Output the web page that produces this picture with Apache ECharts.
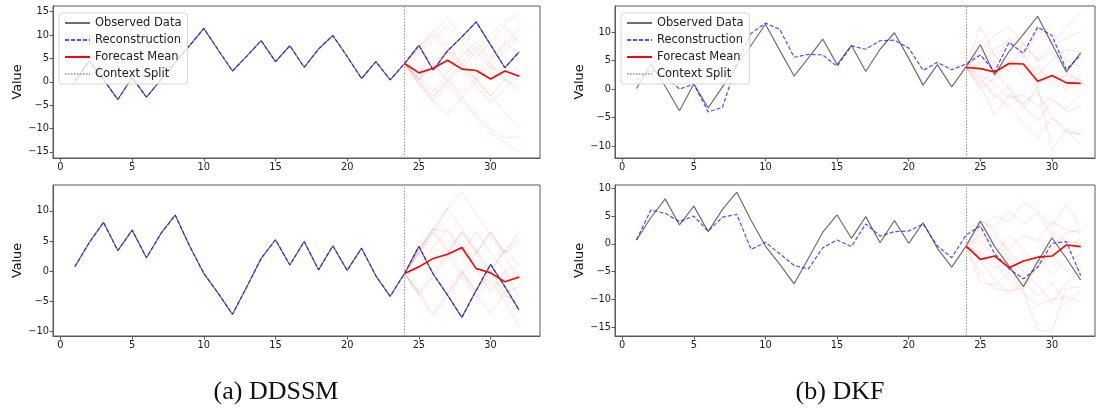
<!DOCTYPE html>
<html><head><meta charset="utf-8">
<script src="https://cdn.jsdelivr.net/npm/echarts@6/dist/echarts.min.js"></script>
<style>html,body{margin:0;padding:0;background:#fff}#c{width:1099px;height:408px}</style>
</head><body><div id="c"></div><script>
// ---------- data ----------
const T_ALL = [1,2,3,4,5,6,7,8,9,10,11,12,13,14,15,16,17,18,19,20,21,22,23,24,25,26,27,28,29,30,31,32];
const T_FC = [24,25,26,27,28,29,30,31,32];
const SPLIT = 24;
const X_TICKS = [0,5,10,15,20,25,30];
const Y_TICKS_TL = [-15,-10,-5,0,5,10,15];
const Y_TICKS_BL = [-10,-5,0,5,10];
const Y_TICKS_TR = [-10,-5,0,5,10];
const Y_TICKS_BR = [-15,-10,-5,0,5,10];
const LEGEND_NAMES = ['Observed Data','Reconstruction','Forecast Mean','Context Split'];
const CAPTIONS = ['(a) DDSSM','(b) DKF'];

const observedTop = [0.1,4.4,0.5,-3.8,0.9,-3.3,0.4,4.1,7.7,11.4,6.8,2.3,5.5,8.8,4.3,7.7,3.1,7.0,9.9,5.4,0.7,4.3,0.4,3.9,7.8,2.5,6.6,9.6,12.8,7.9,3.0,6.4];
const observedBot = [0.7,4.7,8.1,3.4,6.8,2.2,6.2,9.3,4.2,-0.4,-3.7,-7.2,-2.6,2.1,5.2,1.0,4.9,0.2,4.2,0.1,3.8,-0.8,-4.2,-0.4,4.1,-0.5,-4.0,-7.7,-3.2,1.1,-2.6,-6.5];

const ddssmReconTop = [0.1,4.4,0.5,-3.8,0.9,-3.3,0.4,4.1,7.7,11.4,6.8,2.3,5.5,8.8,4.3,7.7,3.1,7.0,9.9,5.4,0.7,4.3,0.4,3.9,7.8,2.5,6.6,9.6,12.8,7.9,3.0,6.4];
const ddssmReconBot = [0.7,4.7,8.1,3.4,6.8,2.2,6.2,9.3,4.2,-0.4,-3.7,-7.2,-2.6,2.1,5.2,1.0,4.9,0.2,4.2,0.1,3.8,-0.8,-4.2,-0.4,4.1,-0.5,-4.0,-7.7,-3.2,1.1,-2.6,-6.5];
const dkfReconTop = [1.6,3.4,2.2,0.0,0.9,-4.0,-3.2,4.5,9.8,11.6,10.5,5.6,6.1,6.0,4.0,7.6,7.0,8.5,8.6,7.2,3.3,4.7,3.4,4.4,6.0,3.1,8.2,6.3,10.9,9.4,3.4,6.0];
const dkfReconBot = [0.7,6.1,5.5,4.0,5.0,2.3,4.8,5.3,-1.0,0.3,-1.8,-3.9,-4.5,-0.7,0.7,-0.5,3.6,1.4,2.2,2.3,3.6,-0.4,-2.5,1.6,3.2,-1.8,-4.5,-6.3,-4.2,0.1,0.4,-5.7];

const ddssmMeanTop = [3.9,1.9,2.9,4.6,2.7,2.4,0.6,2.3,1.2];
const ddssmMeanBot = [-0.4,0.7,2.1,2.8,3.9,0.4,-0.3,-1.8,-1.0];
const dkfMeanTop = [3.8,3.6,3.0,4.5,4.4,1.4,2.4,1.1,1.0];
const dkfMeanBot = [-0.4,-2.8,-2.2,-4.3,-3.1,-2.4,-2.2,-0.2,-0.5];

const ddssmSamplesTop = [
  [3.9,7.5,10.5,13.6,10.0,6.5,3.0,6.5,10.0],
  [3.9,7.0,10.0,6.5,3.0,6.5,10.0,13.0,14.5],
  [3.9,0.0,-3.5,0.5,4.0,7.5,4.0,0.5,-1.2],
  [3.9,-0.5,-4.3,-1.0,-4.0,-7.5,-11.0,-13.0,-15.0],
  [3.9,0.5,3.5,0.0,-3.5,-7.0,-10.0,-12.0,-11.8],
  [3.9,7.0,4.0,0.5,-2.5,1.0,4.5,8.0,11.5],
  [3.9,1.0,-2.0,2.0,5.5,8.5,5.0,8.5,5.5],
  [3.9,7.5,11.0,7.5,4.0,0.5,-3.0,0.5,3.5],
  [3.9,0.5,-3.0,0.0,3.0,-1.0,-4.5,-1.5,1.4],
  [3.9,6.0,9.0,12.0,8.5,5.0,8.5,12.0,8.2],
  [3.9,-0.5,-4.0,-7.0,-3.5,0.0,3.5,0.5,-2.5],
  [3.9,0.5,3.5,7.0,3.5,0.5,-3.0,-6.5,-10.0]
];
const ddssmSamplesBot = [
  [-0.4,3.5,7.0,10.4,13.2,9.5,6.0,2.5,-1.5],
  [-0.4,3.0,6.5,10.4,7.0,3.5,0.0,-3.5,-7.0],
  [-0.4,-4.0,-7.5,-4.0,-0.5,3.0,6.5,3.0,6.6],
  [-0.4,3.5,7.0,3.5,0.0,-3.5,0.0,3.5,5.4],
  [-0.4,-3.5,-0.5,3.0,6.5,3.0,-0.5,-4.0,-5.4],
  [-0.4,3.0,6.5,3.0,6.5,3.0,6.5,3.0,4.9],
  [-0.4,-4.0,-1.0,2.5,-1.0,-4.5,-1.5,-5.0,-9.3],
  [-0.4,3.0,-0.5,-4.0,-0.5,-4.0,-7.0,-3.5,-2.6],
  [-0.4,-3.5,-7.0,-3.5,0.0,-3.5,0.0,3.5,1.0],
  [-0.4,3.5,7.0,6.5,3.0,6.5,3.0,0.0,-4.3],
  [-0.4,0.5,4.0,7.0,3.5,0.0,-3.5,0.0,1.0]
];
const dkfSamplesTop = [
  [3.8,7.0,4.5,9.0,5.5,10.5,8.0,11.0,13.3],
  [3.8,11.0,6.0,3.0,8.0,5.0,6.5,3.0,1.5],
  [3.8,2.0,-1.5,0.5,-3.0,-5.5,-2.0,-3.5,-0.7],
  [3.8,0.5,-4.5,-1.0,-2.5,-0.5,-5.0,-7.0,-8.1],
  [3.8,1.0,3.5,0.0,-3.5,0.5,-10.8,-7.0,-9.8],
  [3.8,6.5,9.5,11.0,8.0,5.0,7.5,9.0,10.1],
  [3.8,2.5,1.0,-1.5,-1.0,-3.0,-1.5,-4.0,-3.0],
  [3.8,4.5,7.0,8.5,6.0,2.5,5.0,7.0,6.5],
  [3.8,8.5,6.0,8.0,10.0,12.5,8.5,5.0,4.0],
  [3.8,1.5,-1.0,-3.0,-6.0,-8.5,-5.0,-7.5,-8.0],
  [3.8,6.0,3.0,5.5,2.0,4.0,1.0,2.5,1.5],
  [3.8,0.0,2.0,5.0,4.0,1.0,2.5,0.0,2.5]
];
const dkfSamplesBot = [
  [-0.4,2.0,5.0,4.0,7.5,6.0,3.0,7.3,2.5],
  [-0.4,-7.0,-7.5,-5.0,-8.5,-15.5,-15.8,-8.0,-7.8],
  [-0.4,4.0,3.0,6.0,3.5,5.5,1.5,-1.0,1.0],
  [-0.4,-3.0,-6.5,-9.0,-7.0,-4.0,-2.0,-5.0,-4.0],
  [-0.4,1.5,0.0,-2.5,-5.0,-7.5,-10.5,-7.0,-4.5],
  [-0.4,-5.5,-8.0,-8.5,-8.0,-4.0,-1.0,2.0,2.5],
  [-0.4,3.0,1.0,-1.0,1.5,0.5,4.0,2.5,2.0],
  [-0.4,-1.5,-3.5,-6.5,-9.0,-11.0,-10.0,-9.5,-10.5],
  [-0.4,0.5,-2.0,1.5,-1.0,-4.5,2.0,0.5,0.0],
  [-0.4,4.5,2.0,-1.5,-4.0,-2.0,-5.5,-3.0,-2.0],
  [-0.4,-2.0,-4.5,-3.0,-6.5,-9.5,-7.0,-11.0,-8.5]
];

// ---------- layout ----------
const panels = [
  {grid:{left:53,top:6,width:487,height:152}, xr:[-0.52,33.45], yr:[-16.3,16.2], yt:Y_TICKS_TL, obs:observedTop, rec:ddssmReconTop, mean:ddssmMeanTop, samples:ddssmSamplesTop},
  {grid:{left:53,top:185,width:487,height:151}, xr:[-0.52,33.45], yr:[-10.8,14.3], yt:Y_TICKS_BL, obs:observedBot, rec:ddssmReconBot, mean:ddssmMeanBot, samples:ddssmSamplesBot},
  {grid:{left:615,top:6,width:480,height:152}, xr:[-0.5,33.0], yr:[-12.1,14.6], yt:Y_TICKS_TR, obs:observedTop, rec:dkfReconTop, mean:dkfMeanTop, samples:dkfSamplesTop},
  {grid:{left:615,top:185,width:480,height:151}, xr:[-0.5,33.0], yr:[-16.6,10.6], yt:Y_TICKS_BR, obs:observedBot, rec:dkfReconBot, mean:dkfMeanBot, samples:dkfSamplesBot}
];

const FONT = 'DejaVu Sans';
const AXIS_COLOR = '#5a5a5a';
const pairs = (ts, vs) => ts.map((t, i) => [t, vs[i]]);
const fmt = v => String(v).replace('-', '\u2212');

const grids = [], xAxes = [], yAxes = [], series = [];
panels.forEach((p, i) => {
  grids.push(Object.assign({show:true, borderColor:AXIS_COLOR, borderWidth:1, backgroundColor:'#fff'}, p.grid));
  xAxes.push({
    type:'value', gridIndex:i, min:p.xr[0], max:p.xr[1],
    axisLine:{show:true, onZero:false, lineStyle:{color:AXIS_COLOR, width:1}},
    axisTick:{show:true, length:3.5, customValues:X_TICKS, lineStyle:{color:AXIS_COLOR}},
    axisLabel:{customValues:X_TICKS, formatter:fmt, fontSize:9.8, fontFamily:FONT, color:'#1a1a1a', margin:4},
    splitLine:{show:false}
  });
  yAxes.push({
    type:'value', gridIndex:i, min:p.yr[0], max:p.yr[1],
    name:'Value', nameLocation:'middle', nameGap:29,
    nameTextStyle:{fontSize:12.8, fontFamily:FONT, color:'#111'},
    axisLine:{show:true, onZero:false, lineStyle:{color:AXIS_COLOR, width:1}},
    axisTick:{show:true, length:3.5, customValues:p.yt, lineStyle:{color:AXIS_COLOR}},
    axisLabel:{customValues:p.yt, formatter:fmt, fontSize:9.8, fontFamily:FONT, color:'#1a1a1a', margin:4},
    splitLine:{show:false}
  });
  p.samples.forEach((s) => {
    series.push({type:'line', name:'sample', xAxisIndex:i, yAxisIndex:i, data:pairs(T_FC, s),
      symbol:'none', silent:true, z:1, lineStyle:{color:'rgba(255,0,0,0.12)', width:1}});
  });
  series.push({type:'line', name:'Observed Data', xAxisIndex:i, yAxisIndex:i, data:pairs(T_ALL, p.obs),
    symbol:'none', z:3, lineStyle:{color:'#6e6e6e', width:1.2}});
  series.push({type:'line', name:'Reconstruction', xAxisIndex:i, yAxisIndex:i, data:pairs(T_ALL, p.rec),
    symbol:'none', z:4, lineStyle:{color:'rgba(20,20,255,0.75)', width:1.2, type:[4,2]}});
  series.push({type:'line', name:'Forecast Mean', xAxisIndex:i, yAxisIndex:i, data:pairs(T_FC, p.mean),
    symbol:'none', z:5, lineStyle:{color:'#ff0000', width:1.6}});
  series.push({type:'line', name:'Context Split', xAxisIndex:i, yAxisIndex:i, data:[],
    symbol:'none', z:2, lineStyle:{color:'#aaaaaa', width:1, type:[1.5,1.5]},
    markLine:{silent:true, symbol:'none', label:{show:false}, animation:false,
      lineStyle:{color:'#999999', width:1, type:[1.5,1.5]}, data:[{xAxis:SPLIT}]}});
});

const legendBase = {
  orient:'vertical', data:LEGEND_NAMES, itemWidth:25, itemHeight:10, itemGap:5,
  padding:[4,6,4,5], backgroundColor:'rgba(255,255,255,0.8)', borderColor:'#d6d6d6',
  borderWidth:1, borderRadius:3, selectedMode:false, z:10,
  itemStyle:{opacity:0},
  textStyle:{fontSize:11.5, fontFamily:FONT, color:'#222', lineHeight:12}
};

const chart = echarts.init(document.getElementById('c'), null, {renderer:'canvas'});
chart.setOption({
  animation:false,
  backgroundColor:'#fff',
  grid:grids, xAxis:xAxes, yAxis:yAxes, series:series,
  legend:[Object.assign({left:59, top:13}, legendBase), Object.assign({left:621, top:13}, legendBase)],
  graphic:[
    {type:'text', style:{text:CAPTIONS[0], font:'26px "Liberation Serif"', fill:'#111', x:276, y:392, align:'center', verticalAlign:'middle'}},
    {type:'text', style:{text:CAPTIONS[1], font:'26px "Liberation Serif"', fill:'#111', x:840, y:392, align:'center', verticalAlign:'middle'}}
  ]
});
</script></body></html>
